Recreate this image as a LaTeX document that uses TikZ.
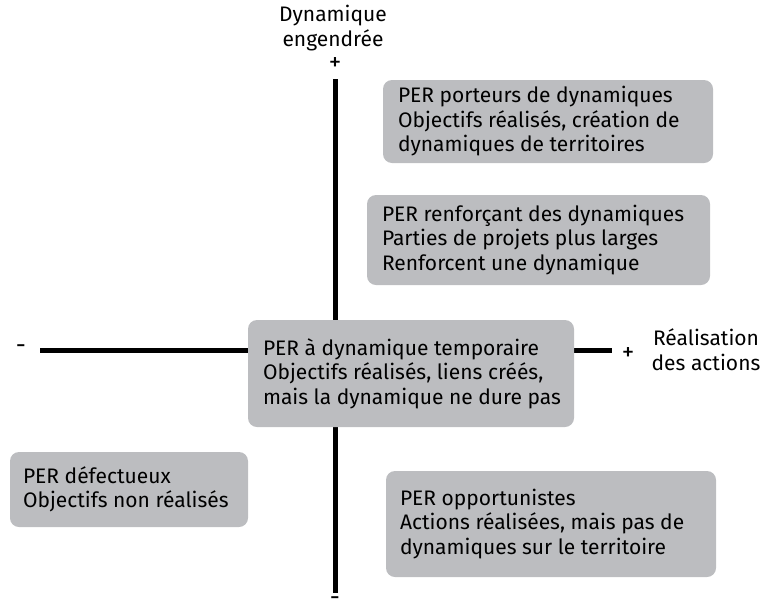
\documentclass[tikz,border=0pt]{standalone}
\usepackage{fontspec}
\setmainfont{Fira Sans}
\begin{document}
\begin{tikzpicture}[x=1pt,y=-1pt,
  box/.style={fill=boxgray, rounded corners=9pt, draw=none, inner sep=0pt, anchor=center},
  txt/.style={font=\fontsize{21}{24.5}\selectfont, align=left, inner sep=0pt, anchor=west},
  axis/.style={line width=5pt, black},
  lbl/.style={font=\fontsize{21}{25}\selectfont, align=center, inner sep=0pt},
  sign/.style={font=\fontsize{25}{25}\selectfont, inner sep=0pt},
]
\definecolor{boxgray}{RGB}{188,189,192}
\useasboundingbox (0,0) rectangle (767,611);
% axes
\coordinate (vtop) at (335,79);
\coordinate (vbot) at (335,593);
\coordinate (hleft) at (40,350);
\coordinate (hright) at (612,350);
\draw[axis] (vtop) -- (vbot);
\draw[axis] (hleft) -- (hright);
% axis labels
\node[lbl] (ytitle) at (333,28) {Dynamique\\engendrée};
\node[sign] (yplus) at (335,64) {+};
\node[sign] (yminus) at (335,601) {-};
\node[sign] (xminus) at (21,349) {-};
\node[sign] (xplus) at (628,354) {+};
\node[lbl] (xtitle) at (706,350) {Réalisation\\des actions};
% boxes
\node[box, minimum width=330pt, minimum height=83pt] (b1) at (548,121.5) {};
\node[txt] (t1) at ([xshift=15pt]b1.west)
  {PER porteurs de dynamiques\\Objectifs réalisés, création de\\dynamiques de territoires};
\node[box, minimum width=343pt, minimum height=90pt] (b2) at (538.5,240) {};
\node[txt] (t2) at ([xshift=15pt]b2.west)
  {PER renforçant des dynamiques\\Parties de projets plus larges\\Renforcent une dynamique};
\node[box, minimum width=326pt, minimum height=107pt] (b3) at (411,373.5) {};
\node[txt] (t3) at ([xshift=15pt]b3.west)
  {PER à dynamique temporaire\\Objectifs réalisés, liens créés,\\mais la dynamique ne dure pas};
\node[box, minimum width=238pt, minimum height=75pt] (b4) at (129,489.5) {};
\node[txt] (t4) at ([xshift=13pt]b4.west)
  {PER défectueux\\Objectifs non réalisés};
\node[box, minimum width=330pt, minimum height=106pt] (b5) at (551,524) {};
\node[txt] (t5) at ([xshift=14pt]b5.west)
  {PER opportunistes\\Actions réalisées, mais pas de\\dynamiques sur le territoire};
\end{tikzpicture}
\end{document}
